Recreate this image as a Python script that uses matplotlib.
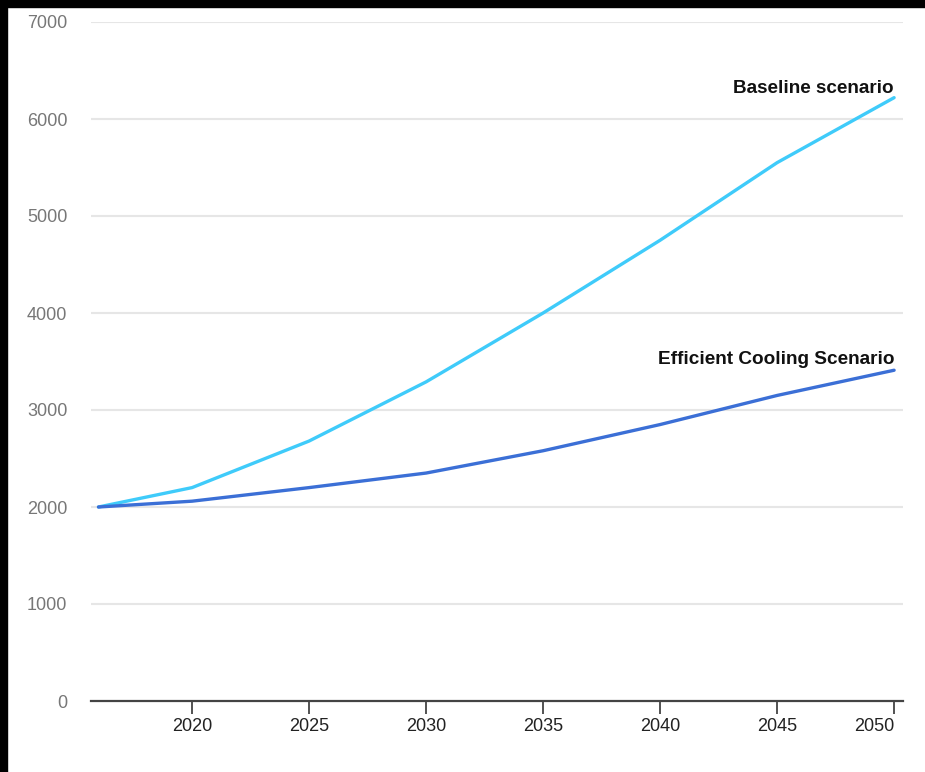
import matplotlib.pyplot as plt
from matplotlib.patches import Rectangle

years = [2016, 2020, 2025, 2030, 2035, 2040, 2045, 2050]
baseline = [2000, 2200, 2680, 3290, 4000, 4750, 5550, 6220]
efficient = [2000, 2060, 2200, 2350, 2580, 2850, 3150, 3410]
x_ticks = [2020, 2025, 2030, 2035, 2040, 2045, 2050]
y_ticks = [0, 1000, 2000, 3000, 4000, 5000, 6000, 7000]

plt.rcParams['font.family'] = ['Liberation Sans', 'DejaVu Sans']

fig = plt.figure(figsize=(9.25, 7.72), dpi=100)
fig.patch.set_facecolor('white')
# black strips on the top and left edge
fig.patches.append(Rectangle((0, 1 - 7 / 772), 1, 7 / 772, transform=fig.transFigure,
                             color='black', zorder=0))
fig.patches.append(Rectangle((0, 0), 7 / 925, 1, transform=fig.transFigure,
                             color='black', zorder=0))

ax = fig.add_axes([91 / 925, 71 / 772, 812 / 925, 679 / 772])

# gridlines
for v in y_ticks[1:]:
    ax.axhline(v, color='#e6e6e6', lw=1.5, zorder=1)

ax.plot(years, baseline, color='#3fcbfa', lw=2.4, zorder=3, solid_capstyle='round')
ax.plot(years, efficient, color='#3b6fd6', lw=2.4, zorder=3, solid_capstyle='round')

ax.annotate('Baseline scenario', xy=(years[-1], baseline[-1]), xytext=(0, 3),
            textcoords='offset points', ha='right', va='baseline',
            fontsize=13.6, fontweight='bold', color='#111111')
ax.annotate('Efficient Cooling Scenario', xy=(years[-1], efficient[-1]), xytext=(0, 4.5),
            textcoords='offset points', ha='right', va='baseline',
            fontsize=13.7, fontweight='bold', color='#111111')

ax.set_xlim(2015.68, 2050.38)
ax.set_ylim(0, 7000)
ax.set_xticks(x_ticks)
ax.set_yticks(y_ticks)
ax.set_xticklabels([str(t) for t in x_ticks])
ax.set_yticklabels([str(t) for t in y_ticks])
ax.tick_params(axis='x', length=9.5, width=1.3, color='#444444', pad=2.5,
               labelsize=13, labelcolor='#222222')
ax.tick_params(axis='y', length=0, pad=17, labelsize=13, labelcolor='#777777')
ax.get_xticklabels()[-1].set_horizontalalignment('right')

for s in ['top', 'right', 'left']:
    ax.spines[s].set_visible(False)
ax.spines['bottom'].set_color('#444444')
ax.spines['bottom'].set_linewidth(1.6)
ax.spines['bottom'].set_zorder(4)

fig.savefig('out.png', dpi=100, facecolor=fig.get_facecolor())
